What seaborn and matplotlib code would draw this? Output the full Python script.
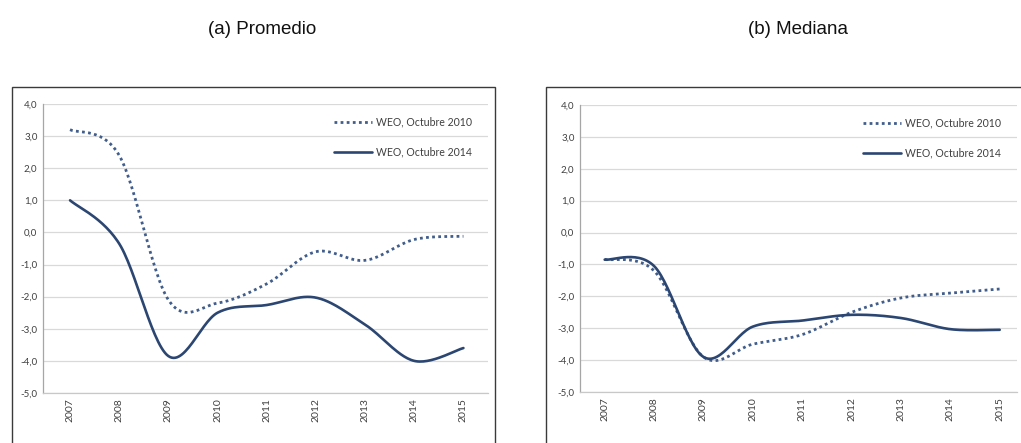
import numpy as np
import pandas as pd
import matplotlib
matplotlib.use("Agg")
import matplotlib.pyplot as plt
import seaborn as sns
from matplotlib.patches import Rectangle

# ---------------- data ----------------
years = ["2007", "2008", "2009", "2010", "2011", "2012", "2013", "2014", "2015"]
series_names = ["WEO, Octubre 2010", "WEO, Octubre 2014"]

prom_2010 = [3.2, 2.4, -2.1, -2.2, -1.6, -0.6, -0.87, -0.22, -0.12]
prom_2014 = [1.0, -0.35, -3.85, -2.5, -2.26, -2.03, -2.87, -4.0, -3.6]

med_2010 = [-0.84, -1.2, -3.9, -3.5, -3.2, -2.5, -2.05, -1.9, -1.77]
med_2014 = [-0.85, -1.05, -3.9, -2.95, -2.76, -2.58, -2.68, -3.03, -3.05]

titles = ["(a) Promedio", "(b) Mediana"]
yticks = [4, 3, 2, 1, 0, -1, -2, -3, -4, -5]


def excel_smooth(vals, n=30):
    """Excel-style smoothed line (cubic Bezier through each data point)."""
    p = np.asarray(vals, dtype=float)
    x = np.arange(len(p), dtype=float)
    pts = np.column_stack([x, p])
    ext = np.vstack([pts[0], pts, pts[-1]])
    out = []
    t = np.linspace(0, 1, n)[:, None]
    for i in range(len(pts) - 1):
        p0 = ext[i + 1]
        p1 = ext[i + 2]
        c1 = p0 + (ext[i + 2] - ext[i]) / 6.0
        c2 = p1 - (ext[i + 3] - ext[i + 1]) / 6.0
        seg = ((1 - t) ** 3) * p0 + 3 * ((1 - t) ** 2) * t * c1 + 3 * (1 - t) * t ** 2 * c2 + t ** 3 * p1
        out.append(seg if i == 0 else seg[1:])
    out = np.vstack(out)
    return out[:, 0], out[:, 1]


sns.set_theme(style="white")
plt.rcParams["font.family"] = ["Lato", "DejaVu Sans"]

W, H = 1021, 443
fig = plt.figure(figsize=(W / 100, H / 100), dpi=100)

# panel frames (pixel boxes)
frames = [(12, 87, 483, 360), (546, 87, 480, 360)]
for (fx, fy, fw, fh) in frames:
    fig.patches.append(Rectangle((fx / W, 1 - (fy + fh) / H), fw / W, fh / H,
                                 transform=fig.transFigure, fill=False,
                                 edgecolor="#3a3a3a", linewidth=1.0, zorder=0))

# axes boxes in pixels: left, top, right, bottom
boxes = [(43, 104, 488, 393), (580, 105, 1017, 392)]
xlims = [(-0.55, 8.5), (-0.5, 8.35)]
data = [(prom_2010, prom_2014), (med_2010, med_2014)]
title_x = [262, 798]
line_color = "#2c4672"

for k in range(2):
    l, t, r, b = boxes[k]
    ax = fig.add_axes([l / W, 1 - b / H, (r - l) / W, (b - t) / H])
    s2010, s2014 = data[k]
    x1, y1 = excel_smooth(s2010)
    x2, y2 = excel_smooth(s2014)
    df = pd.concat([
        pd.DataFrame({"x": x1, "y": y1, "serie": series_names[0]}),
        pd.DataFrame({"x": x2, "y": y2, "serie": series_names[1]}),
    ])
    sns.lineplot(data=df, x="x", y="y", hue="serie", style="serie",
                 palette=[line_color, line_color],
                 dashes=[(1, 1.2), ""], sort=False, estimator=None,
                 ax=ax, legend=False)
    lines = ax.get_lines()
    lines[0].set_linewidth(2.0)
    lines[0].set_color("#405d8c")
    lines[1].set_linewidth(1.9)

    ax.set_xlim(*xlims[k])
    ax.set_ylim(-5.0, 4.0)
    ax.set_yticks(yticks)
    ax.set_yticklabels([f"{v:.1f}".replace(".", ",") for v in yticks],
                       fontsize=7, color="#404040")
    ax.set_xticks(range(len(years)))
    ax.set_xticklabels(years, rotation=90, fontsize=7.5, color="#404040")
    ax.tick_params(axis="both", length=0, pad=4)
    ax.grid(axis="y", color="#d9d9d9", linewidth=0.9)
    ax.grid(axis="x", visible=False)
    ax.set_axisbelow(True)
    for side in ["top", "right"]:
        ax.spines[side].set_visible(False)
    ax.spines["left"].set_color("#a6a6a6")
    ax.spines["bottom"].set_color("#c8c8c8")
    ax.spines["left"].set_linewidth(0.9)
    ax.spines["bottom"].set_linewidth(0.9)
    ax.set_xlabel("")
    ax.set_ylabel("")
    ax.patch.set_alpha(0)

    leg = ax.legend(lines, series_names, loc="upper right",
                    bbox_to_anchor=(0.985, 0.99), frameon=False,
                    fontsize=7.6, handlelength=3.6, handletextpad=0.4,
                    labelspacing=1.85, labelcolor="#404040")

    fig.text(title_x[k] / W, 1 - 29 / H, titles[k], ha="center", va="center",
             fontsize=13.5, family=["Liberation Sans Narrow", "Liberation Sans"],
             color="#111111")

fig.savefig("out.png", dpi=100)
